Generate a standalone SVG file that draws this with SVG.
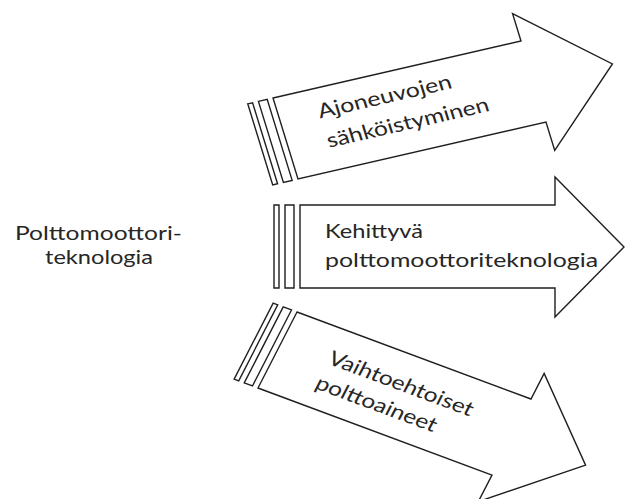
<svg xmlns="http://www.w3.org/2000/svg" width="625" height="499" viewBox="0 0 625 499">
  <style>
    .shape { fill: #ffffff; stroke: #1f1f1f; stroke-width: 1.4; stroke-linejoin: miter; vector-effect: non-scaling-stroke; }
    .label { font-family: Lato, "Open Sans", "Liberation Sans", sans-serif; font-size: 20px; fill: #262626; }
    .side { font-size: 19.5px; }
  </style>
  <rect width="625" height="499" fill="#ffffff"/>

  <!-- Source label on the left -->
  <g id="source">
    <text class="label side" x="15" y="240" textLength="167" lengthAdjust="spacingAndGlyphs">Polttomoottori-</text>
    <text class="label side" x="45" y="264" textLength="108" lengthAdjust="spacingAndGlyphs">teknologia</text>
  </g>

  <!-- Striped arrows; each drawn in its own local frame -->
  <g id="connectors">
    <g id="arrow-electrification" transform="matrix(0.9725,-0.2235,0.301,0.976,239.3,76.5)">
      <rect class="shape" x="0" y="28" width="5" height="83"/>
      <rect class="shape" x="11" y="28" width="9" height="83"/>
      <polygon class="shape" points="26,28 281,28 281,0 362,70 281,140 281,111 26,111"/>
      <text class="label" x="65" y="58" textLength="137" lengthAdjust="spacingAndGlyphs">Ajoneuvojen</text>
      <text class="label" x="65" y="88" textLength="166" lengthAdjust="spacingAndGlyphs">sähköistyminen</text>
    </g>

    <g id="arrow-ice-development" transform="translate(274,177)">
      <rect class="shape" x="0" y="28" width="5" height="83"/>
      <rect class="shape" x="11" y="28" width="9" height="83"/>
      <polygon class="shape" points="26,28 281,28 281,0 350,70 281,140 281,111 26,111"/>
      <text class="label" x="51" y="61" textLength="98" lengthAdjust="spacingAndGlyphs">Kehittyvä</text>
      <text class="label" x="51" y="90" textLength="273" lengthAdjust="spacingAndGlyphs">polttomoottoriteknologia</text>
    </g>

    <g id="arrow-alt-fuels" transform="matrix(0.9176,0.3412,-0.470,0.9157,286.3,277.5)">
      <rect class="shape" x="0" y="28" width="5" height="83"/>
      <rect class="shape" x="11" y="28" width="9" height="83"/>
      <polygon class="shape" points="26,28 281,28 281,0 362,70 281,140 281,111 26,111"/>
      <text class="label" x="77" y="65" textLength="156" lengthAdjust="spacingAndGlyphs">Vaihtoehtoiset</text>
      <text class="label" x="77" y="92" textLength="130" lengthAdjust="spacingAndGlyphs">polttoaineet</text>
    </g>
  </g>
</svg>
